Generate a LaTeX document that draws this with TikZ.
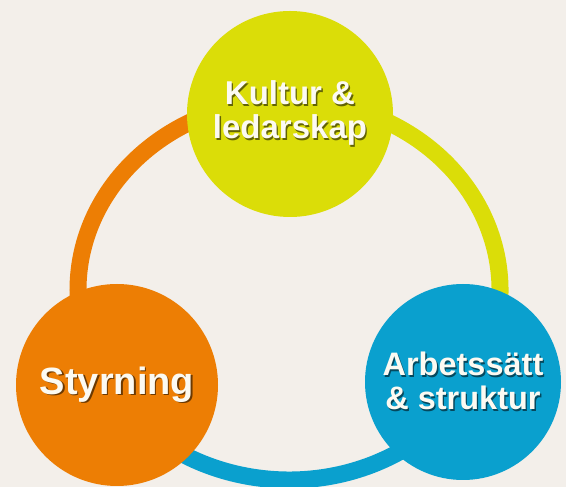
\documentclass[tikz,border=0pt]{standalone}
\usepackage{fontspec}
\setmainfont{Liberation Sans}

\definecolor{bgcol}{RGB}{243,239,234}
\definecolor{kulturcol}{RGB}{219,221,8}
\definecolor{styrcol}{RGB}{237,126,4}
\definecolor{arbetcol}{RGB}{10,160,206}
\definecolor{labelcol}{RGB}{252,250,242}

\tikzset{
  ring/.style={line width=17pt},
  bubble/.style={circle, fill=#1, inner sep=0pt, align=center, text=labelcol,
    execute at begin node={\colorlet{shadowcol}{#1!45!black}}},
}
\newcommand{\glow}[1]{\leavevmode\rlap{\kern1.3pt\raisebox{-1.3pt}{\textcolor{shadowcol}{#1}}}#1}

\begin{document}
\begin{tikzpicture}[x=1pt, y=1pt]
  \fill[bgcol] (0, 0) rectangle (566, 487);
  \useasboundingbox (0, 0) rectangle (566, 487);

  % Ring
  \coordinate (c) at (289, 197);
  \draw[ring, styrcol] ([shift={(90:211pt and 190pt)}]c)
    arc[start angle=90, end angle=212, x radius=211pt, y radius=190pt];
  \draw[ring, arbetcol] ([shift={(212:211pt and 190pt)}]c)
    arc[start angle=212, end angle=330, x radius=211pt, y radius=190pt];
  \draw[ring, kulturcol] ([shift={(330:211pt and 190pt)}]c)
    arc[start angle=330, end angle=450, x radius=211pt, y radius=190pt];

  % Nodes
  \node[bubble=kulturcol, minimum size=206pt, font=\fontsize{33}{34}\selectfont\bfseries]
    (kultur) at (290, 373) {\glow{Kultur \&}\\\glow{ledarskap}};
  \node[bubble=styrcol, minimum size=202pt, font=\fontsize{38}{40}\selectfont\bfseries]
    (styrning) at (117, 102) {\glow{Styrning}};
  \node[bubble=arbetcol, minimum size=196pt, font=\fontsize{32.5}{34}\selectfont\bfseries]
    (arbete) at (463, 105) {\glow{Arbetssätt}\\\glow{\& struktur}};

\end{tikzpicture}
\end{document}
